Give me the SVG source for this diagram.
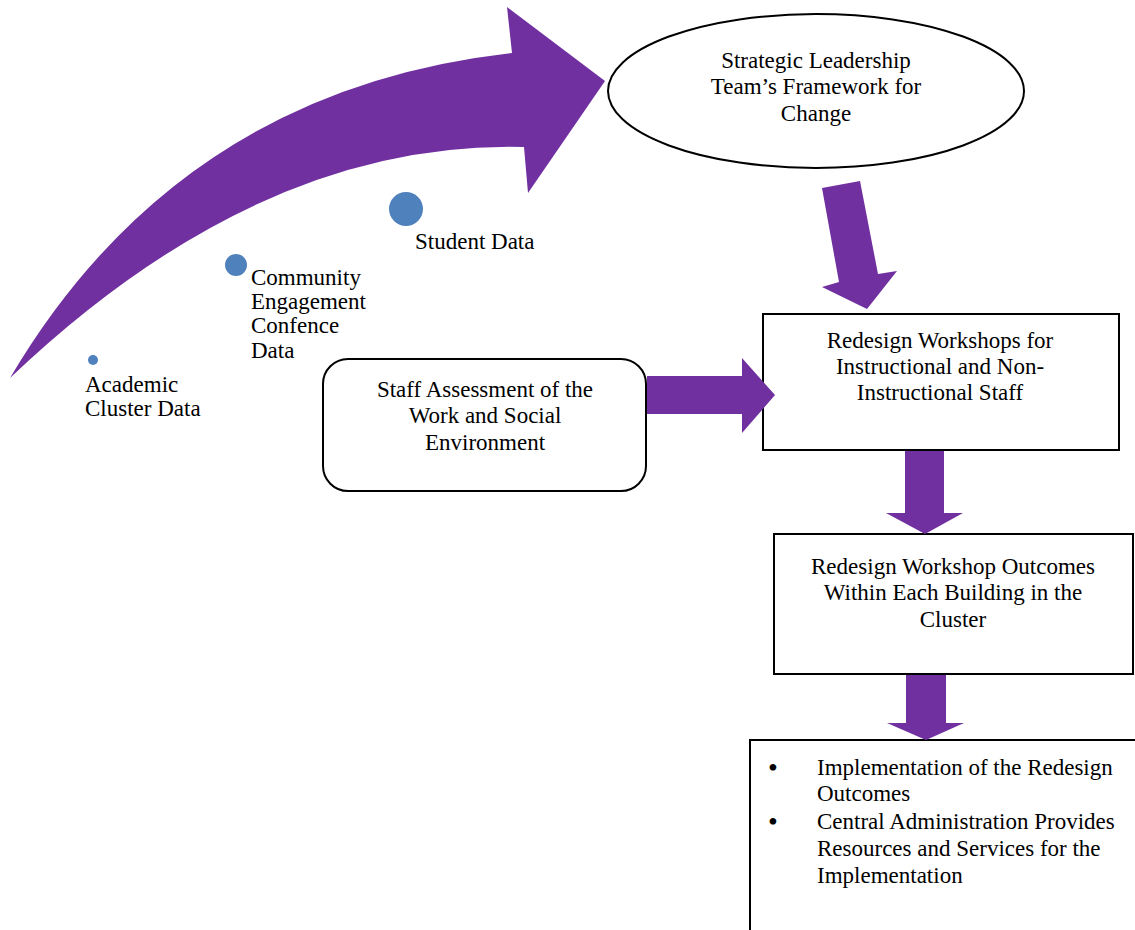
<svg xmlns="http://www.w3.org/2000/svg" width="1135" height="930" viewBox="0 0 1135 930">
<style>
.t{font-family:"Liberation Serif","Times New Roman",serif;font-size:23px;fill:#000}
.c{text-anchor:middle}
.b{font-size:28px}
.arr{fill:#7030A0;stroke:none}
.box{fill:#fff;stroke:#000;stroke-width:2}
.dot{fill:#4F81BD}
</style>
<rect width="1135" height="930" fill="#fff"/>
<g id="data-points">
<circle class="dot" cx="406" cy="209" r="17"/>
<circle class="dot" cx="236" cy="265" r="11"/>
<circle class="dot" cx="93" cy="360" r="5"/>
<text class="t" x="415" y="249">Student Data</text>
<text class="t" x="251" y="285">Community</text>
<text class="t" x="251" y="309">Engagement</text>
<text class="t" x="251" y="333">Confence</text>
<text class="t" x="251" y="358">Data</text>
<text class="t" x="85" y="392">Academic</text>
<text class="t" x="85" y="416">Cluster Data</text>
</g>
<g id="framework">
<ellipse cx="816" cy="91" rx="208" ry="77" fill="#fff" stroke="#000" stroke-width="2"/>
<text class="t c" x="816" y="68">Strategic Leadership</text>
<text class="t c" x="816" y="94">Team’s Framework for</text>
<text class="t c" x="816" y="121">Change</text>
</g>
<g id="staff-assessment">
<rect class="box" x="323" y="359" width="323" height="132" rx="25"/>
<text class="t c" x="485" y="397">Staff Assessment of the</text>
<text class="t c" x="485" y="423">Work and Social</text>
<text class="t c" x="485" y="450">Environment</text>
</g>
<g id="workshops">
<rect class="box" x="763" y="314" width="356" height="136"/>
<text class="t c" x="940" y="348">Redesign Workshops for</text>
<text class="t c" x="940" y="374">Instructional and Non-</text>
<text class="t c" x="940" y="400">Instructional Staff</text>
</g>
<g id="outcomes">
<rect class="box" x="774" y="534" width="359" height="140"/>
<text class="t c" x="953" y="574">Redesign Workshop Outcomes</text>
<text class="t c" x="953" y="600">Within Each Building in the</text>
<text class="t c" x="953" y="627">Cluster</text>
</g>
<g id="implementation">
<rect class="box" x="750" y="740" width="400" height="200"/>
<text class="t b" x="768" y="777">•</text>
<text class="t" x="817" y="775">Implementation of the Redesign</text>
<text class="t" x="817" y="801">Outcomes</text>
<text class="t b" x="768" y="831">•</text>
<text class="t" x="817" y="829">Central Administration Provides</text>
<text class="t" x="817" y="856">Resources and Services for the</text>
<text class="t" x="817" y="883">Implementation</text>
</g>
<g id="connectors">
<path class="arr" d="M10,378 Q180,90 512,53 L507,7 L605,81 L528,193 L524,147 Q260,140 10,378 Z"/>
<path class="arr" d="M822,188 L860,181 L878,274 L897,271 L867,309 L822,287 L839,282 Z"/>
<path class="arr" d="M647,376 L742,376 L742,358 L775,395 L742,433 L742,414 L647,414 Z"/>
<path class="arr" d="M905,451 L944,451 L944,513 L963,513 L925,534 L886,513 L905,513 Z"/>
<path class="arr" d="M906,675 L946,675 L946,723 L964,723 L926,740 L887,723 L906,723 Z"/>
</g>
</svg>
